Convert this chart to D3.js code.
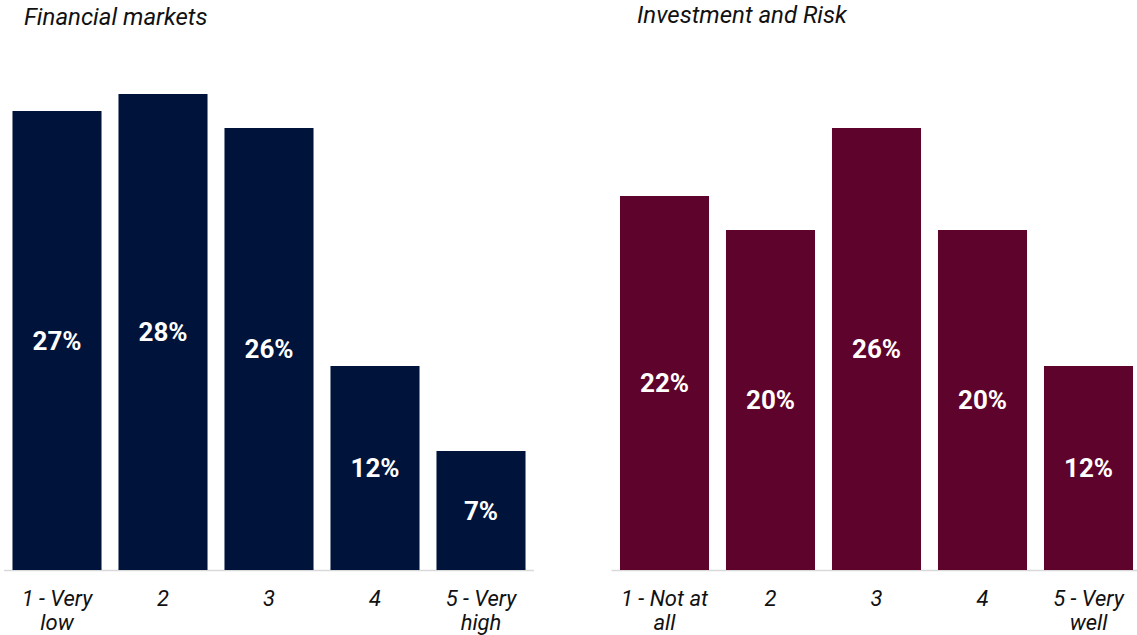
<!DOCTYPE html>
<html>
<head>
<meta charset="utf-8">
<script src="https://cdn.jsdelivr.net/npm/d3@7"></script>
<style>
  html, body { margin: 0; padding: 0; background: #ffffff; }
  svg { display: block; font-family: Roboto, "Noto Sans", sans-serif; }
</style>
</head>
<body>
<svg id="chart" width="1137" height="635"></svg>
<script>
// Survey responses, share of respondents per rating
const leftTitle = "Financial markets";
const leftCategories = ["1 - Very low", "2", "3", "4", "5 - Very high"];
const leftValues = [27, 28, 26, 12, 7];

const rightTitle = "Investment and Risk";
const rightCategories = ["1 - Not at all", "2", "3", "4", "5 - Very well"];
const rightValues = [22, 20, 26, 20, 12];

// Wrapped category label lines
const leftLabelLines = [["1 - Very", "low"], ["2"], ["3"], ["4"], ["5 - Very", "high"]];
const rightLabelLines = [["1 - Not at", "all"], ["2"], ["3"], ["4"], ["5 - Very", "well"]];

const svg = d3.select("#chart");
const baseline = 570;

const y = d3.scaleLinear().domain([0, 30]).range([baseline, 60]);

function panel(opts) {
  const g = svg.append("g");
  const x = d3.scaleBand()
    .domain(opts.categories)
    .range(opts.range)
    .paddingInner(0.16)
    .paddingOuter(0.08);

  g.append("text")
    .attr("x", opts.titleX)
    .attr("y", opts.titleY)
    .attr("font-size", 24)
    .attr("font-style", "italic")
    .attr("fill", "#111")
    .text(opts.title);

  // axis baseline
  g.append("line")
    .attr("x1", opts.range[0]).attr("x2", opts.range[1])
    .attr("y1", baseline + 0.5).attr("y2", baseline + 0.5)
    .attr("stroke", "#d9d9d9")
    .attr("stroke-width", 1.5);

  const data = opts.categories.map((c, i) => ({ c, v: opts.values[i], lines: opts.lines[i] }));

  g.selectAll("rect.bar").data(data).join("rect")
    .attr("class", "bar")
    .attr("x", d => x(d.c))
    .attr("y", d => y(d.v))
    .attr("width", x.bandwidth())
    .attr("height", d => y(0) - y(d.v))
    .attr("fill", opts.color);

  g.selectAll("text.val").data(data).join("text")
    .attr("class", "val")
    .attr("x", d => x(d.c) + x.bandwidth() / 2)
    .attr("y", d => (y(d.v) + y(0)) / 2)
    .attr("dy", "0.36em")
    .attr("text-anchor", "middle")
    .attr("font-size", 26)
    .attr("font-weight", "bold")
    .attr("fill", "#ffffff")
    .text(d => d.v + "%");

  const lab = g.selectAll("text.cat").data(data).join("text")
    .attr("class", "cat")
    .attr("text-anchor", "middle")
    .attr("font-size", 22)
    .attr("font-style", "italic")
    .attr("fill", "#111");
  lab.selectAll("tspan").data(d => d.lines.map(l => ({ l, xc: x(d.c) + x.bandwidth() / 2 })))
    .join("tspan")
    .attr("x", t => t.xc)
    .attr("y", (t, i) => 606 + i * 24)
    .text(t => t.l);
}

panel({
  title: leftTitle, titleX: 24, titleY: 25,
  categories: leftCategories, values: leftValues, lines: leftLabelLines,
  range: [4, 534], color: "#00133a"
});

panel({
  title: rightTitle, titleX: 637, titleY: 23,
  categories: rightCategories, values: rightValues, lines: rightLabelLines,
  range: [611.5, 1141.5], color: "#5e032b"
});
</script>
</body>
</html>
